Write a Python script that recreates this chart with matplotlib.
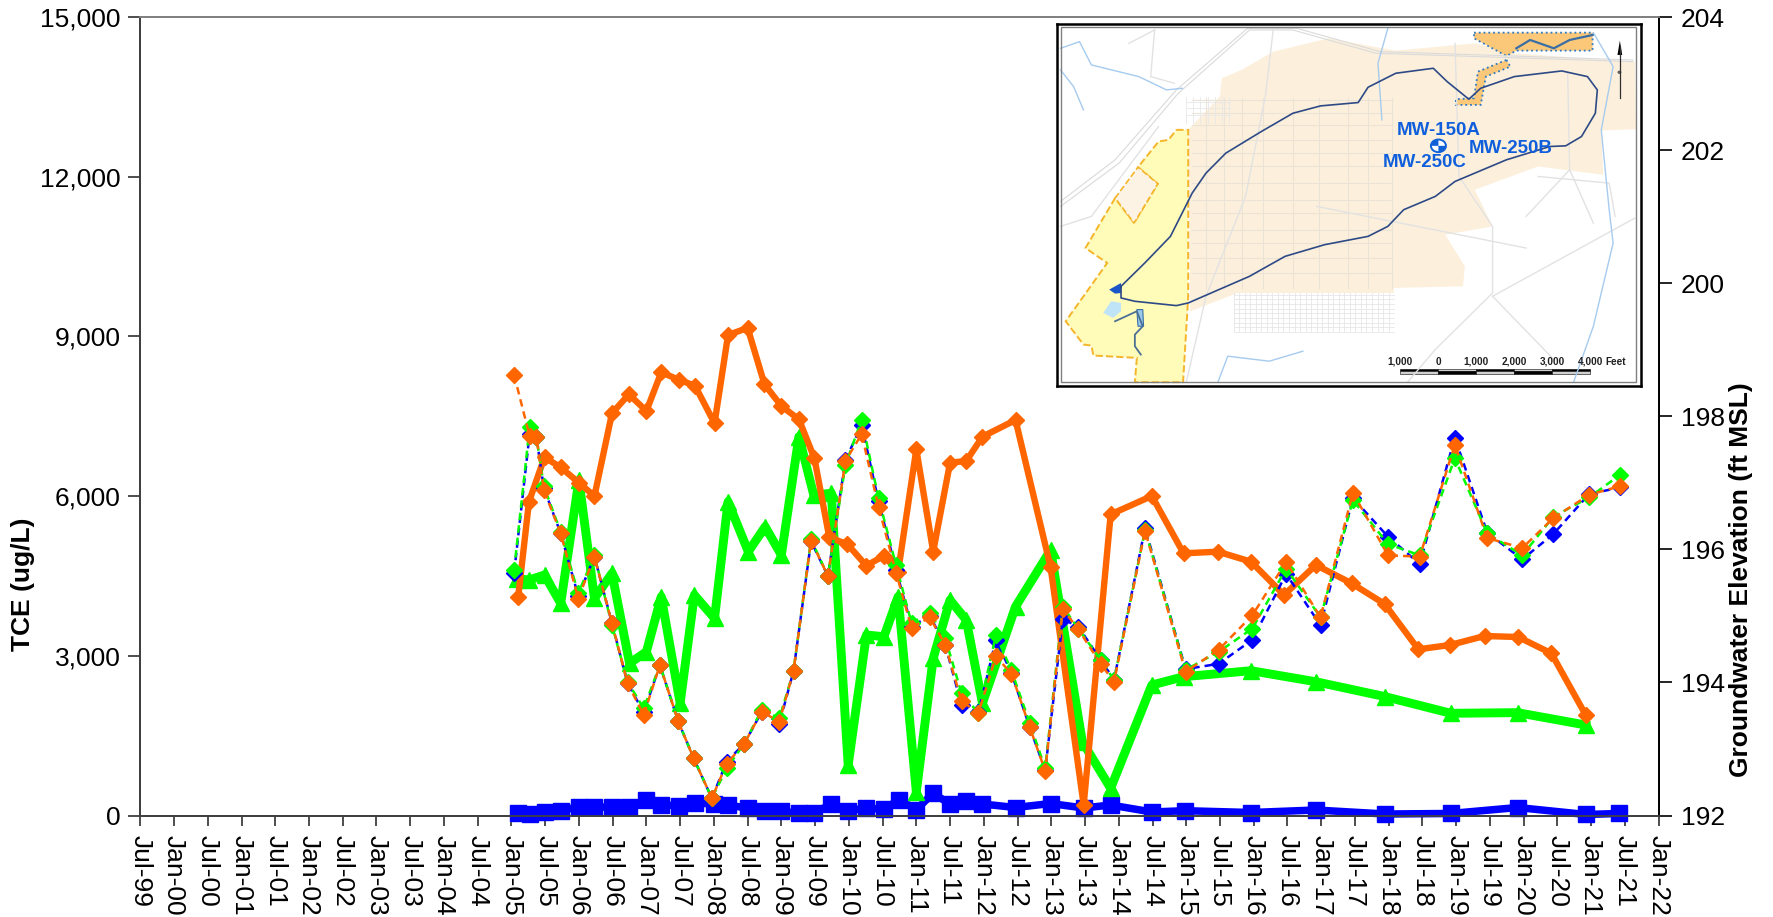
import matplotlib
matplotlib.use('Agg')
import matplotlib.pyplot as plt
from matplotlib.patches import Polygon, Rectangle, Circle, Wedge

plt.rcParams['font.family'] = ['Liberation Sans', 'DejaVu Sans']

# tick labels, one every half year
tick_years = [1999.5 + 0.5 * i for i in range(46)]
tick_labels = ['Jul-99', 'Jan-00', 'Jul-00', 'Jan-01', 'Jul-01', 'Jan-02', 'Jul-02', 'Jan-03',
               'Jul-03', 'Jan-04', 'Jul-04', 'Jan-05', 'Jul-05', 'Jan-06', 'Jul-06', 'Jan-07',
               'Jul-07', 'Jan-08', 'Jul-08', 'Jan-09', 'Jul-09', 'Jan-10', 'Jul-10', 'Jan-11',
               'Jul-11', 'Jan-12', 'Jul-12', 'Jan-13', 'Jul-13', 'Jan-14', 'Jul-14', 'Jan-15',
               'Jul-15', 'Jan-16', 'Jul-16', 'Jan-17', 'Jul-17', 'Jan-18', 'Jul-18', 'Jan-19',
               'Jul-19', 'Jan-20', 'Jul-20', 'Jan-21', 'Jul-21', 'Jan-22']

# TCE, left axis
orange_dates = [2005.10, 2005.26, 2005.49, 2005.73, 2006.00, 2006.23, 2006.49, 2006.74, 2007.00, 2007.22,
                2007.49, 2007.72, 2008.01, 2008.21, 2008.50, 2008.75, 2009.00, 2009.26, 2009.49, 2009.71,
                2009.98, 2010.26, 2010.52, 2010.73, 2011.00, 2011.25, 2011.50, 2011.74, 2011.98, 2012.47,
                2012.99, 2013.48, 2013.88, 2014.49, 2014.96, 2015.47, 2015.96, 2016.45, 2016.92, 2017.45,
                2017.94, 2018.44, 2018.91, 2019.42, 2019.92, 2020.41, 2020.92]
orange_tce = [4099, 5896, 6728, 6541, 6250, 6000, 7555, 7912, 7599, 8325,
              8181, 8073, 7368, 9026, 9159, 8100, 7692, 7442, 6710, 5226,
              5094, 4692, 4880, 4580, 6879, 4956, 6628, 6659, 7116, 7429,
              4662, 197, 5657, 6002, 4925, 4956, 4768, 4142, 4706, 4362,
              3973, 3122, 3203, 3372, 3353, 3047, 1888]

green_dates = [2005.08, 2005.26, 2005.49, 2005.73, 2006.00, 2006.23, 2006.49, 2006.75, 2007.00, 2007.22,
               2007.50, 2007.71, 2008.01, 2008.21, 2008.51, 2008.76, 2009.00, 2009.26, 2009.48, 2009.74,
               2009.99, 2010.26, 2010.52, 2010.73, 2011.00, 2011.25, 2011.50, 2011.74, 2011.98, 2012.47,
               2012.99, 2013.46, 2013.88, 2014.49, 2014.96, 2015.96, 2016.92, 2017.95, 2018.92, 2019.91,
               2020.92]
green_tce = [4450, 4424, 4518, 3986, 6302, 4080, 4549, 2859, 3077, 4110,
             2108, 4142, 3704, 5895, 4956, 5425, 4893, 7116, 6021, 6053,
             949, 3391, 3359, 4110, 447, 2953, 4048, 3672, 2108, 3923,
             4987, 1387, 511, 2451, 2607, 2720, 2513, 2232, 1920, 1932,
             1700]

blue_dates = [2005.09, 2005.27, 2005.49, 2005.73, 2006.00, 2006.23, 2006.49, 2006.74, 2007.00, 2007.22,
              2007.49, 2007.72, 2008.00, 2008.21, 2008.51, 2008.76, 2009.00, 2009.26, 2009.48, 2009.74,
              2009.99, 2010.25, 2010.52, 2010.75, 2011.00, 2011.25, 2011.50, 2011.74, 2011.98, 2012.47,
              2012.99, 2013.48, 2013.88, 2014.49, 2014.98, 2015.96, 2016.92, 2017.95, 2018.92, 2019.91,
              2020.92, 2021.42]
blue_tce = [41, 31, 72, 90, 165, 165, 153, 153, 297, 197,
            185, 235, 216, 197, 135, 85, 78, 41, 47, 210,
            90, 135, 122, 297, 109, 422, 210, 278, 216, 150,
            225, 141, 197, 66, 90, 56, 103, 28, 38, 150,
            19, 38]

# groundwater elevation, right axis
elev_dates = [2005.04, 2005.27, 2005.37, 2005.48, 2005.73, 2005.99, 2006.23, 2006.49, 2006.72, 2006.96,
              2007.20, 2007.47, 2007.70, 2007.97, 2008.19, 2008.45, 2008.71, 2008.97, 2009.18, 2009.44,
              2009.69, 2009.95, 2010.19, 2010.44, 2010.70, 2010.93, 2011.20, 2011.43, 2011.67, 2011.92,
              2012.18, 2012.41, 2012.68, 2012.91, 2013.17, 2013.40, 2013.73, 2013.93, 2014.39, 2014.99,
              2015.48, 2015.98, 2016.48, 2016.99, 2017.47, 2017.99, 2018.46, 2018.98, 2019.46, 2019.98,
              2020.44, 2020.97, 2021.43]
elev_blue = [195.65, 197.74, 197.69, 196.92, 196.24, 195.30, 195.89, 194.89, 193.99, 193.55,
             194.26, 193.42, 192.86, 192.26, 192.81, 193.08, 193.56, 193.38, 194.17, 196.12,
             195.60, 197.34, 197.87, 196.72, 195.69, 194.84, 195.00, 194.56, 193.66, 193.55,
             194.64, 194.14, 193.33, 192.68, 194.95, 194.84, 194.34, 194.04, 196.32, 194.20,
             194.28, 194.64, 195.63, 194.86, 196.77, 196.19, 195.78, 197.68, 196.25, 195.85,
             196.23, 196.83, 196.93]
elev_green = [195.69, 197.84, 197.69, 196.95, 196.26, 195.34, 195.91, 194.86, 194.01, 193.61,
              194.26, 193.42, 192.86, 192.26, 192.71, 193.08, 193.59, 193.46, 194.17, 196.15,
              195.60, 197.27, 197.95, 196.77, 195.76, 194.89, 195.05, 194.66, 193.84, 193.54,
              194.71, 194.18, 193.39, 192.71, 195.14, 194.81, 194.34, 194.04, 196.29, 194.19,
              194.46, 194.81, 195.71, 194.98, 196.74, 196.08, 195.91, 197.37, 196.24, 195.91,
              196.49, 196.78, 197.12]
elev_orange = [198.62, 197.70, 197.69, 196.89, 196.24, 195.26, 195.89, 194.89, 193.99, 193.51,
               194.26, 193.42, 192.86, 192.26, 192.78, 193.08, 193.56, 193.41, 194.17, 196.13,
               195.60, 197.33, 197.73, 196.64, 195.65, 194.82, 194.98, 194.56, 193.72, 193.54,
               194.39, 194.13, 193.33, 192.67, 195.10, 194.80, 194.28, 194.01, 196.28, 194.16,
               194.49, 195.01, 195.81, 194.98, 196.85, 195.91, 195.89, 197.57, 196.17, 196.02,
               196.47, 196.82, 196.95]

# map outlines for the inset, in map pixels
map_beige = [(590, 125), (730, 85), (900, 122), (1100, 100), (1200, 130), (1505, 155), (1508, 358), (1420, 362),
             (1425, 495), (1340, 482), (1260, 470), (1100, 540), (1145, 650), (1025, 675), (1075, 770),
             (1070, 830), (895, 835), (895, 850), (500, 850), (380, 905), (375, 360), (455, 260), (460, 205), (510, 180)]
map_yellow = [(345, 360), (375, 360), (375, 860), (362, 1118), (240, 1118), (245, 1045), (135, 1038), (130, 1008),
              (110, 1005), (65, 935), (170, 760), (115, 715), (190, 565), (238, 640), (298, 522), (248, 472),
              (300, 395), (325, 390)]
map_cream = [(190, 565), (248, 472), (298, 522), (238, 640)]
map_source = [(1098, 68), (1398, 68), (1398, 122), (1205, 122), (1180, 138), (1098, 85)]
map_strip = [(1180, 150), (1190, 170), (1128, 200), (1115, 285), (1052, 285), (1052, 268), (1098, 265), (1108, 185)]
map_plume = [(205, 830), (265, 760), (330, 680), (385, 550), (420, 490), (470, 430), (560, 365), (640, 310), (710, 288),
             (805, 278), (830, 232), (900, 190), (995, 175), (1030, 215), (1085, 268), (1115, 235), (1200, 200),
             (1320, 183), (1385, 200), (1410, 240), (1405, 310), (1370, 380), (1330, 408), (1290, 410), (1180, 450),
             (1050, 515), (1000, 560), (920, 600), (880, 650), (830, 680), (720, 705), (620, 740), (530, 800),
             (375, 880), (345, 888), (240, 875), (205, 865), (205, 830)]
map_creek1 = [(880, 55), (855, 160), (865, 330)]
map_creek2 = [(1400, 68), (1450, 170), (1420, 360), (1440, 600), (1450, 700), (1400, 950), (1350, 1118)]
map_creek3 = [(52, 115), (100, 95), (130, 165), (250, 200), (320, 240), (360, 235)]
map_creek4 = [(52, 180), (85, 230), (110, 300)]
map_creek5 = [(450, 1118), (475, 1040), (580, 1055), (665, 1025)]
map_pipe = [(190, 935), (245, 905), (260, 950), (240, 975), (240, 1010), (255, 1035)]
map_rail = [[(52, 590), (200, 460), (350, 250), (530, 60), (640, 60), (850, 130), (1500, 155)],
            [(52, 575), (190, 450), (345, 240), (525, 55), (650, 55), (860, 125), (1500, 150)]]
map_roads = [[(590, 60), (570, 260), (520, 560), (420, 860), (370, 1118)],
             [(1050, 100), (1060, 500), (1145, 650), (1145, 850), (1000, 1020), (930, 1118)],
             [(1145, 860), (1505, 625)], [(1145, 860), (1300, 1050)], [(700, 590), (1230, 715)],
             [(1335, 190), (1340, 480), (1400, 640)], [(225, 100), (290, 60)], [(290, 60), (280, 200), (340, 220)],
             [(1260, 500), (1440, 520), (1455, 620)], [(1230, 620), (1340, 480)], [(52, 650), (130, 620), (300, 350)]]
scale_labels = ['1,000', '0', '1,000', '2,000', '3,000', '4,000']
scale_x = [910, 1007, 1104, 1200, 1296, 1392]

fig = plt.figure(figsize=(17.74, 9.17), dpi=100)
fig.patch.set_facecolor('white')
ax = fig.add_axes([140.3 / 1774, 1 - 815.5 / 917, (1658.6 - 140.3) / 1774, 798.5 / 917])
ax2 = ax.twinx()

ax.plot(blue_dates, blue_tce, '-s', color='#0000FF', lw=5.4, ms=11.5, clip_on=False, zorder=3)
ax.plot(green_dates, green_tce, '-^', color='#00FF00', lw=6.4, ms=11, clip_on=False, zorder=4)
ax.plot(orange_dates, orange_tce, '-D', color='#FF6600', lw=4.6, ms=8, clip_on=False, zorder=5)

ax2.plot(elev_dates, elev_blue, '--D', color='#0000FF', lw=1.8, ms=8.3, clip_on=False, dashes=(3, 2))
ax2.plot(elev_dates, elev_green, '--D', color='#00FF00', lw=1.8, ms=8.3, clip_on=False, dashes=(3, 2))
ax2.plot(elev_dates, elev_orange, '--D', color='#FF6600', lw=1.8, ms=8.3, clip_on=False, dashes=(3, 2))

ax.set_xlim(1999.5, 2022.0)
ax.set_ylim(0, 15000)
ax2.set_ylim(192, 204)
ax.set_xticks(tick_years)
ax.set_xticklabels(tick_labels, rotation=-90, fontsize=19)
ax.set_yticks(range(0, 15001, 3000))
ax.set_yticklabels(['{:,}'.format(v) for v in range(0, 15001, 3000)], fontsize=19)
ax2.set_yticks(range(192, 205, 2))
ax2.set_yticklabels([str(v) for v in range(192, 205, 2)], fontsize=19)
ax.tick_params(axis='x', length=7, width=1.2, color='#303030', pad=7)
ax.tick_params(axis='y', length=9, width=1.2, color='#303030', pad=5)
ax2.tick_params(axis='y', length=9, width=1.2, color='black', pad=7)
ax.set_ylabel('TCE (ug/L)', fontsize=19, fontweight='bold', labelpad=4, y=0.29)
ax2.set_ylabel('Groundwater Elevation (ft MSL)', fontsize=19, fontweight='bold', labelpad=3, y=0.295)

for a in (ax, ax2):
    a.spines['top'].set_color('#808080')
    a.spines['left'].set_color('#404040')
    a.spines['bottom'].set_color('#404040')
    a.spines['right'].set_color('black')
    for s in a.spines.values():
        s.set_linewidth(1.3)
ax.set_zorder(1)
ax2.set_zorder(2)
ax2.patch.set_visible(False)

# site map inset
m = fig.add_axes([1056.6 / 1774, 1 - 385.5 / 917, (1640.8 - 1056.6) / 1774, 361.5 / 917], zorder=5)
m.set_xlim(42, 1520)
m.set_ylim(1128, 42)
m.set_xticks([])
m.set_yticks([])
for s in m.spines.values():
    s.set_linewidth(1.8)
    s.set_color('black')
m.set_facecolor('white')

m.add_patch(Polygon(map_beige, fc='#FCF0DC', ec='none'))
# street mesh
grid_h = [270, 310, 345, 390, 430, 470, 520, 570, 610, 660, 700, 745, 790]
grid_v = [420, 465, 510, 565, 640, 705, 780, 830, 890]
for y in grid_h:
    m.plot([385, 890], [y, y], color='#EBE3D6', lw=0.8)
for x in grid_v:
    m.plot([x, x], [265, 835], color='#EBE3D6', lw=0.8)
for y in range(855, 970, 14):
    m.plot([490, 895], [y, y], color='#E6E6E6', lw=0.6)
for x in range(490, 896, 14):
    m.plot([x, x], [850, 965], color='#E6E6E6', lw=0.6)
for x in range(370, 480, 18):
    m.plot([x, x], [262, 340], color='#E8E8E8', lw=0.6)
for y in (275, 295, 315):
    m.plot([370, 480], [y, y], color='#E8E8E8', lw=0.6)
for r in map_rail:
    m.plot(*zip(*r), color='#DADADA', lw=0.8)
for r in map_roads:
    m.plot(*zip(*r), color='#E2E2E2', lw=1)
for c in (map_creek1, map_creek2, map_creek3, map_creek4, map_creek5):
    m.plot(*zip(*c), color='#A6CBEF', lw=1)

m.add_patch(Polygon(map_yellow, fc='#FFFBB8', ec='#F5B52A', lw=1.4, ls='--'))
m.add_patch(Polygon(map_cream, fc='#FCF3E4', ec='#F5B52A', lw=1.2, ls='--'))
m.add_patch(Polygon(map_source, fc='#FAC878', ec='#2F78C4', lw=1.3, ls=':'))
m.add_patch(Polygon(map_strip, fc='#FAC878', ec='#2F78C4', lw=1.3, ls=':'))
m.plot([1205, 1240, 1300, 1340, 1398], [115, 90, 115, 90, 75], color='#3A6EA5', lw=1.6)
m.plot(*zip(*map_plume), color='#2E4A86', lw=1.2)
m.plot(*zip(*map_pipe), color='#4C6F96', lw=1.3)
m.add_patch(Polygon([(180, 875), (205, 880), (205, 905), (185, 925), (160, 910)], fc='#BFE3F7', ec='none'))
m.add_patch(Polygon([(245, 900), (260, 900), (262, 950), (248, 950)], fc='#9CCBEA', ec='#3A6EA5', lw=0.8))
m.add_patch(Polygon([(175, 840), (205, 820), (205, 850), (190, 852)], fc='#1C55C8', ec='none'))

# well symbol and labels
m.add_patch(Circle((1008, 408), 19, fc='white', ec='#1060D8', lw=1.4))
m.add_patch(Wedge((1008, 408), 19, 0, 90, fc='#1060D8', ec='none'))
m.add_patch(Wedge((1008, 408), 19, 180, 270, fc='#1060D8', ec='none'))
m.text(1009, 362, 'MW-150A', color='#0F5FDC', fontsize=13.5, fontweight='bold', ha='center', va='center')
m.text(973, 459, 'MW-250C', color='#0F5FDC', fontsize=13.5, fontweight='bold', ha='center', va='center')
m.text(1191, 417, 'MW-250B', color='#0F5FDC', fontsize=13.5, fontweight='bold', ha='center', va='center')

# scale bar
for i in range(5):
    m.add_patch(Rectangle((scale_x[i], 1078), scale_x[i + 1] - scale_x[i], 7, fc='black' if i % 2 == 0 else '#D0D0D0', ec='black', lw=0.4))
    m.add_patch(Rectangle((scale_x[i], 1085), scale_x[i + 1] - scale_x[i], 7, fc='#D0D0D0' if i % 2 == 0 else 'black', ec='black', lw=0.4))
for x, lab in zip(scale_x, scale_labels):
    m.text(x, 1056, lab, fontsize=7.2, fontweight='bold', ha='center', va='center', color='#202020')
m.text(1430, 1056, 'Feet', fontsize=7.2, fontweight='bold', ha='left', va='center', color='#202020')

# north arrow
m.plot([1467, 1467], [110, 265], color='#303030', lw=0.9)
m.add_patch(Polygon([(1467, 92), (1461, 135), (1473, 135)], fc='black', ec='none'))
m.add_patch(Circle((1466, 187), 5, fc='#606060', ec='none'))

# double frame
m.add_patch(Rectangle((52, 52), 1456, 1066, fc='none', ec='#808080', lw=1, zorder=20))

fig.savefig('out.png', dpi=100)
print("Done.")
